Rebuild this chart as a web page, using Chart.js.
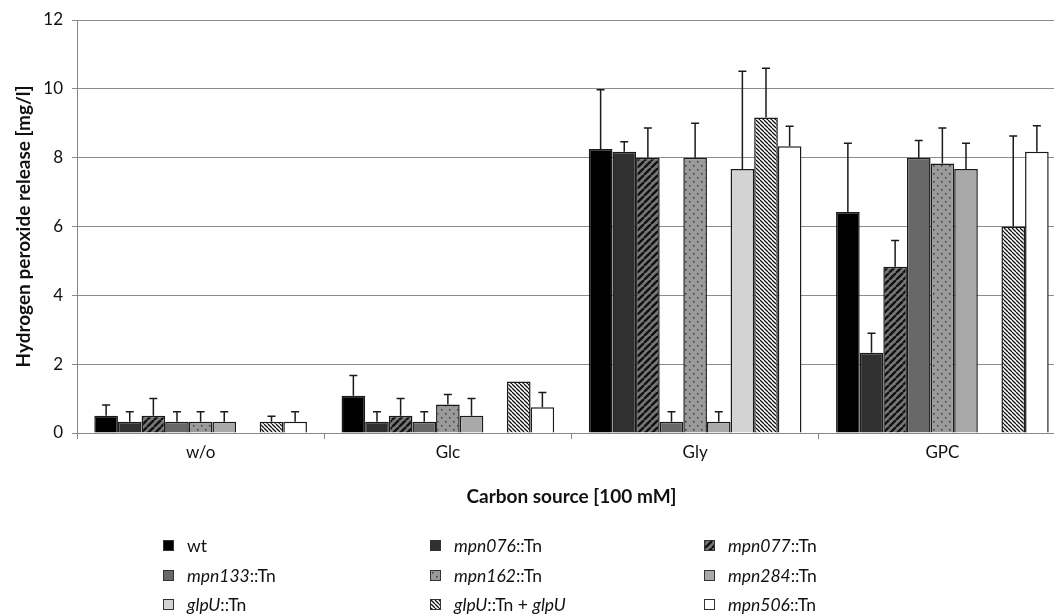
<!DOCTYPE html>
<html>
<head>
<meta charset="utf-8">
<script src="https://cdn.jsdelivr.net/npm/chart.js@4.4.0/dist/chart.umd.min.js"></script>
<style>
  body { margin: 0; background: #fff; overflow: hidden; font-family: Lato, "Open Sans", sans-serif; }
  #wrap { position: relative; width: 1066px; height: 616px; }
  #legend { position: absolute; left: 0; top: 0; width: 1054px; height: 616px; font-size: 17.5px; color: #111; pointer-events: none; }
  .item { position: absolute; display: flex; align-items: center; height: 22px; white-space: nowrap; }
  .item canvas { width: 9px; height: 9px; border: 1px solid #333; margin-right: 13px; }
</style>
</head>
<body>
<div id="wrap">
  <canvas id="chart" width="1066" height="520"></canvas>
  <div id="legend"></div>
</div>
<script>
// categories (x axis)
const categories = ['w/o', 'Glc', 'Gly', 'GPC'];

// H2O2 release [mg/l] per strain, one value per carbon source
const wt        = [0.50, 1.08, 8.25, 6.42];
const mpn076    = [0.33, 0.33, 8.17, 2.33];
const mpn077    = [0.50, 0.50, 8.00, 4.83];
const mpn133    = [0.33, 0.33, 0.33, 8.00];
const mpn162    = [0.33, 0.83, 8.00, 7.83];
const mpn284    = [0.33, 0.50, 0.33, 7.67];
const glpU      = [null, null, 7.67, null];
const glpUcomp  = [0.33, 1.50, 9.17, 6.00];
const mpn506    = [0.33, 0.75, 8.33, 8.17];

// standard deviations (upper error bars)
const wtErr       = [0.31, 0.59, 1.72, 2.00];
const mpn076Err   = [0.29, 0.29, 0.29, 0.57];
const mpn077Err   = [0.50, 0.50, 0.86, 0.76];
const mpn133Err   = [0.29, 0.29, 0.29, 0.50];
const mpn162Err   = [0.29, 0.29, 1.00, 1.03];
const mpn284Err   = [0.29, 0.50, 0.29, 0.75];
const glpUErr     = [null, null, 2.84, null];
const glpUcompErr = [0.16, 0, 1.43, 2.63];
const mpn506Err   = [0.29, 0.43, 0.58, 0.76];

const yTicks = { min: 0, max: 12, step: 2 };

// pattern tiles
function stripeTile(bg, fg, size, lw, rising) {
  const c = document.createElement('canvas');
  c.width = size; c.height = size;
  const g = c.getContext('2d');
  g.fillStyle = bg; g.fillRect(0, 0, size, size);
  g.strokeStyle = fg; g.lineWidth = lw;
  g.beginPath();
  for (let k = -1; k <= 1; k++) {
    if (rising) { g.moveTo(k * size, size); g.lineTo(k * size + size, 0); }
    else { g.moveTo(k * size, 0); g.lineTo(k * size + size, size); }
  }
  g.stroke();
  return c;
}
function dotTile(bg, fg) {
  const c = document.createElement('canvas');
  c.width = 8; c.height = 8;
  const g = c.getContext('2d');
  g.fillStyle = bg; g.fillRect(0, 0, 8, 8);
  g.fillStyle = fg;
  g.fillRect(1, 1, 1.5, 1.5);
  g.fillRect(5, 5, 1.5, 1.5);
  return c;
}

const tiles = {
  diag: stripeTile('#777', '#111', 7, 2.4, true),
  dots: dotTile('#9a9a9a', '#3a3a3a'),
  fine: stripeTile('#fff', '#111', 4, 1.3, false)
};

const canvas = document.getElementById('chart');
const ctx = canvas.getContext('2d');
function fill(f, c) {
  return tiles[f] ? c.createPattern(tiles[f], 'repeat') : f;
}

const series = [
  { label: 'wt', html: 'wt', data: wt, err: wtErr, fill: '#000' },
  { label: 'mpn076::Tn', html: '<i>mpn076</i>::Tn', data: mpn076, err: mpn076Err, fill: '#303030' },
  { label: 'mpn077::Tn', html: '<i>mpn077</i>::Tn', data: mpn077, err: mpn077Err, fill: 'diag' },
  { label: 'mpn133::Tn', html: '<i>mpn133</i>::Tn', data: mpn133, err: mpn133Err, fill: '#686868' },
  { label: 'mpn162::Tn', html: '<i>mpn162</i>::Tn', data: mpn162, err: mpn162Err, fill: 'dots' },
  { label: 'mpn284::Tn', html: '<i>mpn284</i>::Tn', data: mpn284, err: mpn284Err, fill: '#a9a9a9' },
  { label: 'glpU::Tn', html: '<i>glpU</i>::Tn', data: glpU, err: glpUErr, fill: '#d3d3d3' },
  { label: 'glpU::Tn + glpU', html: '<i>glpU</i>::Tn + <i>glpU</i>', data: glpUcomp, err: glpUcompErr, fill: 'fine' },
  { label: 'mpn506::Tn', html: '<i>mpn506</i>::Tn', data: mpn506, err: mpn506Err, fill: '#fff' }
];

const errorBars = {
  id: 'errorBars',
  afterDatasetsDraw(chart) {
    const c = chart.ctx, y = chart.scales.y;
    c.save();
    c.strokeStyle = '#1a1a1a';
    c.lineWidth = 1.5;
    chart.data.datasets.forEach((ds, i) => {
      chart.getDatasetMeta(i).data.forEach((bar, j) => {
        const v = ds.data[j], e = ds.err[j];
        if (v == null || !e) return;
        const top = y.getPixelForValue(v + e);
        c.beginPath();
        c.moveTo(bar.x, bar.y);
        c.lineTo(bar.x, top);
        c.moveTo(bar.x - 4, top);
        c.lineTo(bar.x + 4, top);
        c.stroke();
      });
    });
    c.restore();
  }
};

const font = 'Lato';

new Chart(canvas, {
  type: 'bar',
  data: {
    labels: categories,
    datasets: series.map(s => ({
      label: s.label,
      data: s.data,
      err: s.err,
      backgroundColor: fill(s.fill, ctx),
      borderColor: '#1a1a1a',
      borderWidth: 1.5
    }))
  },
  options: {
    responsive: false,
    animation: false,
    layout: { padding: { top: 20, left: 0, right: 0, bottom: 0 } },
    datasets: { bar: { categoryPercentage: 0.86, barPercentage: 1 } },
    plugins: { legend: { display: false }, tooltip: { enabled: false } },
    scales: {
      x: {
        grid: { drawOnChartArea: false, color: '#888', tickLength: 6, offset: true },
        border: { color: '#888' },
        ticks: { color: '#111', padding: 3, font: { family: font, size: 17 } },
        title: {
          display: true, text: 'Carbon source [100 mM]', color: '#111',
          font: { family: font, size: 19, weight: 'bold' }, padding: { top: 0, bottom: 12 }
        },
        afterFit(s) { s.height = 87; }
      },
      y: {
        min: yTicks.min, max: yTicks.max,
        grid: { color: '#8c8c8c', tickLength: 5 },
        border: { color: '#888' },
        ticks: { stepSize: yTicks.step, color: '#111', padding: 9, font: { family: font, size: 17 } },
        title: {
          display: true, text: 'Hydrogen peroxide release [mg/l]', color: '#111',
          font: { family: font, size: 19, weight: 'bold' }, padding: { top: 12, bottom: 0 }
        },
        afterFit(s) { s.width = 77; }
      }
    }
  },
  plugins: [errorBars]
});

// legend: 3 columns x 3 rows
const legend = document.getElementById('legend');
const colX = [163, 430, 704];
const rowY = [534, 564, 593];
series.forEach((s, i) => {
  const it = document.createElement('div');
  it.className = 'item';
  it.style.left = colX[i % 3] + 'px';
  it.style.top = rowY[Math.floor(i / 3)] + 'px';
  const sw = document.createElement('canvas');
  sw.width = 9; sw.height = 9;
  const g = sw.getContext('2d');
  g.fillStyle = fill(s.fill, g);
  g.fillRect(0, 0, 9, 9);
  it.appendChild(sw);
  const t = document.createElement('span');
  t.innerHTML = s.html;
  it.appendChild(t);
  legend.appendChild(it);
});
</script>
</body>
</html>
